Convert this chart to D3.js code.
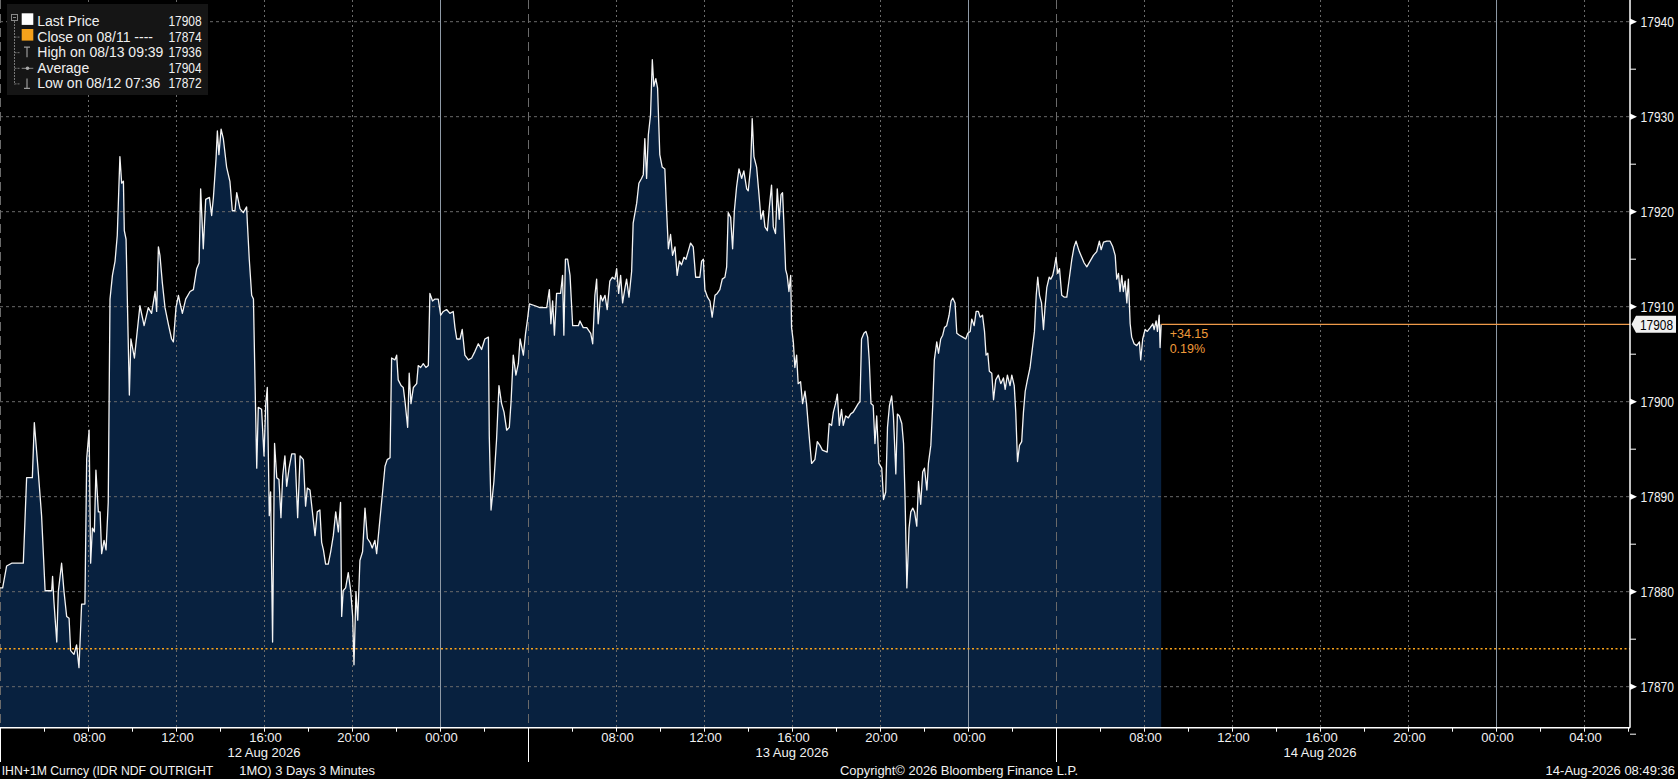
<!DOCTYPE html>
<html><head><meta charset="utf-8">
<script src="https://cdn.jsdelivr.net/npm/d3@7"></script>
<style>
html,body{margin:0;padding:0;background:#000;overflow:hidden;}
svg{display:block;font-family:"Liberation Sans",Arial,sans-serif;}
</style></head><body>
<svg id="chart" width="1678" height="779"></svg>
<script>
// ---- data (hours since 12 Aug 2026 04:00, IHN+1M price) ----
const hoursSinceStart = [
0.00,0.12,0.30,0.53,1.06,1.21,1.47,1.56,1.74,1.89,2.05,2.35,2.39,2.45,2.58,2.65,2.80,2.91,3.03,3.14,3.21,3.36,3.48,3.59,3.71,3.86,3.94,4.05,4.12,4.20,4.29,4.36,4.47,4.55,4.62,4.73,4.82,4.92,
5.00,5.11,5.23,5.33,5.45,5.53,5.61,5.65,5.73,5.88,5.95,6.11,6.21,6.36,6.55,6.74,6.89,7.05,7.12,7.20,7.27,7.38,7.50,7.65,7.80,7.88,8.00,8.11,8.18,8.29,8.44,8.64,8.79,8.94,9.05,9.12,9.24,9.35,9.52,9.62,9.70,9.82,9.88,9.95,
10.05,10.15,10.30,10.45,10.56,10.68,10.76,10.91,11.06,11.21,11.24,11.33,11.44,11.52,11.59,11.67,11.74,11.89,12.00,12.08,12.15,12.24,12.30,12.39,12.48,12.58,12.68,12.77,12.85,12.95,13.03,13.14,13.26,13.41,13.53,
13.64,13.79,13.89,13.97,14.09,14.20,14.32,14.42,14.54,14.62,14.70,14.80,14.92,15.03,15.15,15.26,15.38,15.48,15.53,15.60,15.71,15.83,15.94,16.03,16.09,16.18,16.26,16.36,16.48,16.59,16.70,16.82,16.92,
17.04,17.12,17.24,17.39,17.50,17.60,17.73,17.80,17.95,18.03,18.10,18.23,18.33,18.41,18.53,18.60,18.68,18.79,18.94,19.01,19.12,19.24,19.36,19.47,19.54,19.66,19.77,19.92,20.03,20.15,20.30,20.45,20.60,20.68,20.76,20.91,
21.01,21.13,21.29,21.44,21.59,21.74,21.89,22.04,22.20,22.24,22.32,22.45,22.57,22.68,22.80,22.91,23.03,23.15,23.23,23.33,23.45,23.56,23.64,23.79,23.89,23.98,24.06,24.32,24.54,24.85,24.97,25.04,25.12,25.20,25.30,25.48,25.57,25.63,25.70,25.80,25.91,26.03,26.29,26.36,26.51,26.67,
26.85,26.94,27.04,27.12,27.19,27.30,27.39,27.50,27.60,27.72,27.83,27.95,28.03,28.12,28.21,28.30,28.41,28.48,28.59,28.71,28.78,28.94,29.04,29.16,29.24,29.31,29.39,29.47,29.57,29.65,29.72,29.81,29.89,29.99,
30.10,30.22,30.30,30.38,30.48,30.57,30.68,30.78,30.88,30.98,31.09,31.18,31.28,31.39,31.51,31.62,31.81,31.89,31.97,32.04,32.16,32.27,32.37,32.50,32.60,32.72,32.83,32.95,33.03,33.10,33.21,33.30,33.38,33.48,33.59,33.71,33.81,33.94,
34.01,34.12,34.19,34.27,34.39,34.50,34.59,34.69,34.77,34.88,34.97,35.07,35.15,35.25,35.33,35.42,35.50,35.57,35.63,35.71,35.78,35.86,35.94,35.98,36.06,36.13,36.21,36.28,36.39,36.48,36.59,36.66,36.78,36.89,
37.04,37.15,37.27,37.38,37.60,37.69,37.80,37.88,37.98,38.06,38.15,38.25,38.33,38.44,38.56,38.66,38.78,38.91,39.01,39.09,39.16,39.27,39.36,39.44,39.51,39.59,39.69,39.77,39.85,39.95,
40.08,40.16,40.26,40.34,40.43,40.53,40.61,40.72,40.79,40.88,40.99,41.07,41.14,41.22,41.32,41.40,41.49,41.57,41.67,41.75,41.85,41.94,42.02,42.13,42.20,42.31,42.40,42.47,42.58,42.66,42.76,42.85,42.93,
43.03,43.14,43.23,43.31,43.41,43.49,43.61,43.76,43.90,43.99,44.10,44.17,44.28,44.37,44.47,44.55,44.66,44.75,44.82,44.90,44.97,45.08,45.16,45.26,45.38,45.49,45.61,45.69,45.79,45.91,45.99,
46.10,46.17,46.25,46.34,46.44,46.52,46.60,46.70,46.82,46.93,47.02,47.10,47.17,47.25,47.34,47.43,47.50,47.58,47.69,47.76,47.85,47.93,48.00,48.08,48.16,48.26,48.38,48.49,48.61,48.72,48.82,48.91,48.99,
49.06,49.17,49.28,49.40,49.55,49.70,49.85,49.97,50.05,50.16,50.31,50.46,50.58,50.69,50.76,50.84,50.91,50.99,51.06,51.14,51.22,51.29,51.37,51.44,51.55,51.67,51.79,51.85,51.94,52.05,52.15,52.28,52.40,52.46,52.55,52.61,52.69,52.73,52.78
];
const prices = [
17880.4,17880.4,17882.7,17883.0,17883.0,17892.0,17892.0,17897.8,17892.6,17888.0,17880.1,17880.1,17881.6,17879.0,17874.7,17880.0,17883.0,17880.0,17877.4,17877.2,17873.8,17873.4,17874.4,17872.0,17878.7,17878.7,17894.0,17897.0,17883.0,17886.7,17886.3,17892.8,17888.4,17888.4,17884.0,17885.4,17884.4,17889.4,
17910.8,17913.3,17914.8,17917.5,17925.8,17923.0,17923.2,17918.0,17917.1,17900.7,17906.6,17904.6,17906.8,17910.1,17908.0,17909.9,17909.3,17911.6,17909.5,17916.3,17915.4,17912.5,17909.9,17908.2,17906.6,17906.3,17909.9,17911.2,17910.4,17909.3,17910.8,17911.6,17911.8,17914.0,17914.6,17922.4,17916.1,17921.3,17921.5,17919.6,17921.5,17925.6,17928.5,17926.0,
17928.7,17927.7,17924.7,17923.2,17920.1,17920.1,17922.0,17920.3,17919.9,17920.5,17919.0,17915.0,17911.2,17910.8,17902.3,17893.0,17899.4,17899.2,17894.3,17899.8,17901.5,17888.0,17890.5,17874.7,17895.6,17892.0,17891.8,17887.8,17892.2,17894.3,17891.1,17893.0,17894.5,17894.5,17887.8,
17894.3,17893.9,17889.0,17890.9,17890.7,17888.4,17885.9,17888.4,17888.6,17885.2,17884.4,17882.9,17882.9,17884.2,17885.9,17888.4,17886.3,17889.4,17877.4,17880.1,17880.4,17882.0,17880.1,17877.4,17872.3,17880.0,17877.0,17883.3,17884.2,17888.8,17885.6,17885.2,17884.6,
17885.4,17884.0,17886.9,17890.5,17893.2,17893.9,17894.1,17904.6,17904.4,17904.9,17902.3,17901.7,17901.5,17900.0,17897.3,17903.0,17899.8,17901.5,17901.9,17903.8,17903.6,17904.0,17903.6,17903.8,17911.4,17910.6,17910.8,17910.8,17909.1,17909.5,17909.7,17909.3,17909.5,17907.8,17906.6,17906.6,
17907.6,17904.9,17904.4,17904.6,17905.3,17906.1,17905.5,17906.6,17906.8,17896.4,17888.6,17891.6,17896.0,17901.7,17899.8,17898.9,17897.0,17897.3,17900.0,17904.9,17902.8,17904.0,17906.6,17904.9,17907.2,17908.7,17910.3,17910.1,17909.9,17909.9,17911.8,17908.2,17910.6,17907.0,17911.4,17911.4,17913.3,17907.0,17915.0,17915.0,17913.3,17908.0,17908.0,17908.5,17907.8,17907.8,
17907.2,17906.1,17911.2,17912.9,17908.2,17911.2,17910.6,17911.2,17909.7,17912.7,17913.1,17912.9,17914.0,17911.4,17913.3,17910.4,17912.0,17912.9,17911.0,17913.7,17918.8,17920.9,17923.0,17923.5,17923.9,17927.7,17923.5,17928.1,17930.2,17936.0,17933.2,17934.0,17933.0,17926.0,
17924.7,17924.5,17920.1,17916.1,17917.6,17915.4,17916.3,17913.3,17914.8,17914.4,17915.2,17915.0,17915.8,17916.7,17916.3,17913.1,17913.1,17914.8,17915.0,17911.8,17911.0,17910.6,17908.9,17911.2,17911.4,17911.8,17912.9,17913.1,17914.2,17919.9,17919.4,17916.1,17920.1,17922.6,17924.5,17923.5,17924.3,17922.4,
17922.2,17924.7,17929.8,17925.8,17924.7,17921.8,17919.2,17920.1,17918.4,17918.0,17920.5,17922.8,17918.4,17917.7,17922.4,17919.2,17921.8,17922.0,17918.8,17913.9,17913.3,17911.6,17913.3,17907.8,17906.3,17903.6,17904.9,17901.9,17902.1,17899.8,17901.1,17899.8,17896.4,17893.5,
17893.9,17895.8,17895.4,17894.9,17894.7,17897.7,17897.5,17898.9,17899.8,17900.8,17897.5,17899.2,17897.5,17898.5,17898.3,17898.7,17898.9,17899.4,17899.8,17900.0,17906.6,17907.2,17907.4,17906.8,17904.4,17899.8,17899.6,17895.6,17898.5,17893.5,
17893.0,17889.7,17890.5,17897.3,17899.6,17900.6,17898.5,17892.4,17898.7,17898.5,17897.7,17895.6,17889.7,17880.4,17886.7,17888.4,17888.8,17888.4,17886.9,17891.6,17889.2,17892.6,17893.0,17890.7,17893.5,17895.4,17899.8,17904.4,17906.3,17905.1,17906.6,17907.0,17907.8,
17908.0,17909.1,17910.6,17910.9,17910.4,17907.2,17907.0,17906.8,17906.6,17907.2,17907.4,17908.7,17908.0,17909.5,17909.5,17908.9,17909.1,17907.4,17904.9,17905.1,17903.2,17903.0,17900.2,17902.3,17902.8,17901.9,17902.5,17901.3,17902.8,17901.7,17902.8,
17901.7,17898.9,17893.7,17895.4,17895.8,17898.9,17901.1,17902.3,17903.6,17905.7,17907.4,17911.2,17913.1,17911.2,17910.4,17907.6,17909.9,17912.0,17913.1,17912.9,17913.3,17914.2,17915.2,17913.5,17914.0,17911.2,17911.0,17911.0,17913.1,17915.0,17916.3,17916.9,17916.3,
17915.8,17915.2,17914.6,17914.2,17914.8,17915.4,17915.8,17916.9,17916.0,17916.8,17916.9,17916.9,17916.3,17915.4,17912.9,17913.5,17911.6,17913.3,17911.6,17912.7,17910.4,17912.9,17908.2,17906.8,17906.1,17905.9,17906.3,17904.4,17906.6,17907.6,17907.4,17907.8,17908.2,17907.6,17908.5,17907.4,17909.1,17905.7,17908.15
];
const yTickValues = [17870,17880,17890,17900,17910,17920,17930,17940];
const yMinorValues = [17865,17875,17885,17895,17905,17915,17925,17935];
const closePrice = 17874;
const lastPrice = 17908.15;
const lastPriceLabel = "17908";
const changeLabels = ["+34.15","0.19%"];
const legendLabels = ["Last Price","Close on 08/11 ----","High on 08/13 09:39","Average","Low on 08/12 07:36"];
const legendValues = ["17908","17874","17936","17904","17872"];
const dayLabels = ["12 Aug 2026","13 Aug 2026","14 Aug 2026"];
const footerLeft = ["IHN+1M Curncy (IDR NDF OUTRIGHT","1MO) 3 Days 3 Minutes"];
const footerMid = "Copyright\u00A9 2026 Bloomberg Finance L.P.";
const footerRight = "14-Aug-2026 08:49:36";

// ---- layout ----
const plotRight = 1630, plotBottom = 727.7;
const start = new Date(2026,7,12,4,0);
const spanHours = 74.09;
const end = new Date(start.getTime() + spanHours*3600e3);
const svg = d3.select("#chart");
svg.append("rect").attr("width",1678).attr("height",779).attr("fill","#000");

const x = d3.scaleTime().domain([start,end]).range([0,plotRight]);
const y = d3.scaleLinear().domain([17870,17940]).range([686.7,21.7]);

const data = hoursSinceStart.map((h,i)=>({t:new Date(start.getTime()+h*3600e3), v:prices[i]}));
const lastT = data[data.length-1].t;

// area
svg.append("path").datum(data)
  .attr("d", d3.area().x(d=>x(d.t)).y0(plotBottom).y1(d=>y(d.v)))
  .attr("fill","#08213f");

// grid
const ticks2h = d3.timeHour.every(2).range(start, end);
const ticks4h = ticks2h.filter(d=>d.getHours()%4===0);
const isDayStart = d => d.getHours()===4 && d.getDate()<=14;
const g = svg.append("g");
g.selectAll("line.h").data(yTickValues).join("line")
  .attr("x1",0).attr("x2",plotRight).attr("y1",d=>y(d)).attr("y2",d=>y(d))
  .attr("stroke","#6a6a6a").attr("stroke-width",1).attr("stroke-dasharray","3,3");
g.selectAll("line.v").data(ticks4h).join("line")
  .attr("x1",d=>x(d)+0.5).attr("x2",d=>x(d)+0.5).attr("y1",0).attr("y2",plotBottom)
  .attr("stroke",d=> d.getHours()===0 ? "#8f9aa6" : "#6a6a6a")
  .attr("stroke-width",1)
  .attr("stroke-dasharray",d=> d.getHours()===0 ? null : (isDayStart(d) ? "9,5" : "2,3"));

// close line (dotted orange)
svg.append("line").attr("x1",0).attr("x2",plotRight)
  .attr("y1",y(closePrice)).attr("y2",y(closePrice))
  .attr("stroke","#f7a21b").attr("stroke-width",1.6).attr("stroke-dasharray","2,2.5");

// price line
svg.append("path").datum(data)
  .attr("d", d3.line().x(d=>x(d.t)).y(d=>y(d.v)))
  .attr("fill","none").attr("stroke","#f4f4f4").attr("stroke-width",1.3).attr("stroke-linejoin","round");

// last price line
svg.append("line").attr("x1",x(lastT)).attr("x2",plotRight)
  .attr("y1",y(lastPrice)).attr("y2",y(lastPrice))
  .attr("stroke","#ee9a4a").attr("stroke-width",1.2);
svg.selectAll("text.chg").data(changeLabels).join("text")
  .attr("x",x(lastT)+8.5).attr("y",(d,i)=>y(lastPrice)+13.5+i*15)
  .attr("fill","#ef9a3a").attr("font-size","12.5px").text(d=>d);

// axes
svg.append("line").attr("x1",plotRight).attr("x2",plotRight).attr("y1",0).attr("y2",plotBottom)
  .attr("stroke","#fff").attr("stroke-width",1.5);
svg.append("line").attr("x1",0).attr("x2",plotRight).attr("y1",plotBottom).attr("y2",plotBottom)
  .attr("stroke","#fff").attr("stroke-width",1.6);

// y ticks
svg.selectAll("path.ytri").data(yTickValues).join("path")
  .attr("d",d=>`M${plotRight},${y(d)-3.2}L${plotRight+7},${y(d)}L${plotRight},${y(d)+3.2}Z`)
  .attr("fill","#fff");
svg.selectAll("line.ymin").data(yMinorValues).join("line")
  .attr("x1",plotRight).attr("x2",plotRight+6).attr("y1",d=>y(d)).attr("y2",d=>y(d))
  .attr("stroke","#fff").attr("stroke-width",1);
svg.selectAll("text.ylab").data(yTickValues).join("text")
  .attr("x",plotRight+10.5).attr("y",d=>y(d)+5.5)
  .attr("fill","#f2f2f2").attr("font-size","14px")
  .attr("textLength",33.5).attr("lengthAdjust","spacingAndGlyphs").text(d=>d);

// last price box on axis
const yl = y(lastPrice);
svg.append("path")
  .attr("d",`M${plotRight+1.5},${yl}L${plotRight+6},${yl-8.5}L${plotRight+46},${yl-8.5}L${plotRight+46},${yl+8.5}L${plotRight+6},${yl+8.5}Z`)
  .attr("fill","#f0f0f0");
svg.append("text").attr("x",plotRight+10).attr("y",yl+5.3)
  .attr("fill","#000").attr("font-size","14px")
  .attr("textLength",33).attr("lengthAdjust","spacingAndGlyphs").text(lastPriceLabel);

// x ticks
svg.selectAll("line.xt").data(ticks2h.filter(d=>!isDayStart(d))).join("line")
  .attr("x1",d=>x(d)+0.5).attr("x2",d=>x(d)+0.5).attr("y1",plotBottom).attr("y2",plotBottom+4)
  .attr("stroke","#fff").attr("stroke-width",1);
svg.selectAll("line.sep").data(ticks4h.filter(isDayStart)).join("line")
  .attr("x1",d=>x(d)+0.5).attr("x2",d=>x(d)+0.5).attr("y1",plotBottom).attr("y2",762)
  .attr("stroke","#fff").attr("stroke-width",1);
svg.selectAll("text.xlab").data(ticks4h.filter(d=>!isDayStart(d))).join("text")
  .attr("x",d=>x(d)+1.5).attr("y",741.7).attr("text-anchor","middle")
  .attr("fill","#f2f2f2").attr("font-size","13px").text(d=>d3.timeFormat("%H:%M")(d));
svg.selectAll("text.day").data(dayLabels).join("text")
  .attr("x",(d,i)=>x(new Date(2026,7,12+i,16,0))).attr("y",757)
  .attr("text-anchor","middle").attr("fill","#f2f2f2").attr("font-size","13px").text(d=>d);

// footer
const foot = svg.append("g").attr("fill","#f2f2f2").attr("font-size","13px");
foot.append("text").attr("x",1.7).attr("y",775).attr("textLength",211.6).attr("lengthAdjust","spacingAndGlyphs").text(footerLeft[0]);
foot.append("text").attr("x",239.3).attr("y",775).attr("textLength",135.7).attr("lengthAdjust","spacingAndGlyphs").text(footerLeft[1]);
foot.append("text").attr("x",840).attr("y",775).attr("textLength",238).attr("lengthAdjust","spacingAndGlyphs").text(footerMid);
foot.append("text").attr("x",1675).attr("y",775).attr("text-anchor","end").text(footerRight);

// legend
const lg = svg.append("g");
lg.append("rect").attr("x",7).attr("y",4).attr("width",201).attr("height",91).attr("fill","#151515");
const rowY = i => 26 + i*15.6;
// tree
lg.append("rect").attr("x",11.5).attr("y",14.5).attr("width",6).attr("height",6)
  .attr("fill","none").attr("stroke","#888").attr("stroke-width",1);
lg.append("line").attr("x1",13).attr("x2",16).attr("y1",17.5).attr("y2",17.5).attr("stroke","#888");
lg.append("line").attr("x1",14.5).attr("x2",14.5).attr("y1",21).attr("y2",rowY(4)-4)
  .attr("stroke","#777").attr("stroke-dasharray","2,1");
lg.selectAll("line.br").data(d3.range(1,5)).join("line")
  .attr("x1",14.5).attr("x2",20).attr("y1",i=>rowY(i)-4.5).attr("y2",i=>rowY(i)-4.5)
  .attr("stroke","#777").attr("stroke-dasharray","2,1");
// icons
lg.append("rect").attr("x",21.7).attr("y",13.3).attr("width",11.6).attr("height",11.6).attr("fill","#fff");
lg.append("rect").attr("x",21.7).attr("y",29).attr("width",11.6).attr("height",11.6).attr("fill","#f7a21b");
lg.append("path").attr("d",`M24,${rowY(2)-10}H30M27,${rowY(2)-10}V${rowY(2)}`)
  .attr("stroke","#999").attr("stroke-width",1.2).attr("fill","none");
lg.append("line").attr("x1",21.7).attr("x2",33.3).attr("y1",rowY(3)-4.5).attr("y2",rowY(3)-4.5).attr("stroke","#888");
lg.append("circle").attr("cx",27.5).attr("cy",rowY(3)-4.5).attr("r",1.8).attr("fill","#aaa");
lg.append("path").attr("d",`M27,${rowY(4)-10}V${rowY(4)}M24,${rowY(4)}H30`)
  .attr("stroke","#999").attr("stroke-width",1.2).attr("fill","none");
lg.selectAll("text.ll").data(legendLabels).join("text")
  .attr("x",37.3).attr("y",(d,i)=>rowY(i)).attr("fill","#f0f0f0").attr("font-size","14px").text(d=>d);
lg.selectAll("text.lv").data(legendValues).join("text")
  .attr("x",168.4).attr("y",(d,i)=>rowY(i)).attr("fill","#f0f0f0").attr("font-size","14px")
  .attr("textLength",33.3).attr("lengthAdjust","spacingAndGlyphs").text(d=>d);
</script>
</body></html>
